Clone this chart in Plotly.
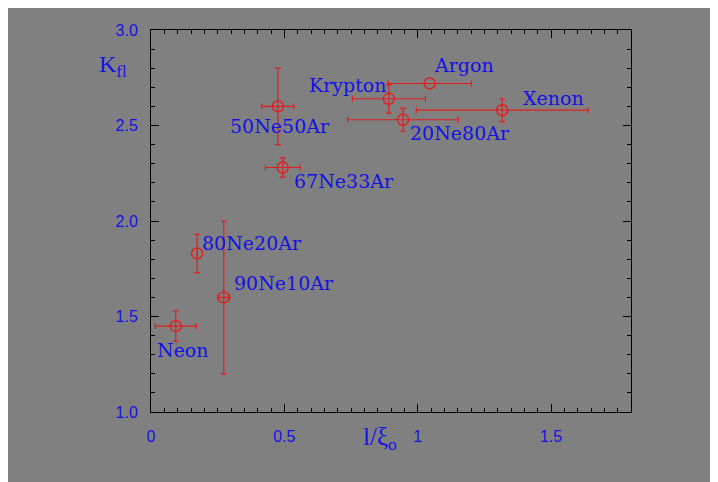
import plotly.graph_objects as go

# ---- data ----
names = ["Neon", "80Ne20Ar", "90Ne10Ar", "50Ne50Ar", "67Ne33Ar",
         "Krypton", "Argon", "20Ne80Ar", "Xenon"]
x_vals = [0.093, 0.173, 0.273, 0.476, 0.494, 0.892, 1.045, 0.945, 1.317]
y_vals = [1.45, 1.83, 1.60, 2.60, 2.28, 2.64, 2.72, 2.53, 2.58]
x_err = [0.077, 0.0, 0.022, 0.06, 0.065, 0.137, 0.156, 0.207, 0.322]
y_err = [0.08, 0.10, 0.40, 0.20, 0.05, 0.075, 0.0, 0.06, 0.06]

# label anchor positions (data coords)
label_x = [0.12, 0.379, 0.498, 0.485, 0.722, 0.736, 1.174, 1.157, 1.508]
label_y = [1.326, 1.885, 1.678, 2.497, 2.21, 2.71, 2.815, 2.459, 2.646]

x_tickvals = [0, 0.5, 1, 1.5]
x_ticktext = ["0", "0.5", "1", "1.5"]
y_tickvals = [1.0, 1.5, 2.0, 2.5, 3.0]
y_ticktext = ["1.0", "1.5", "2.0", "2.5", "3.0"]

GRAY = "#808080"
BLUE = "#1212e6"
RED = "#e01e1e"

fig = go.Figure()
fig.add_trace(go.Scatter(
    x=x_vals, y=y_vals, mode="markers",
    marker=dict(symbol="circle-open", size=11, color=RED, line=dict(width=1.4, color=RED)),
    error_x=dict(type="data", array=x_err, color=RED, thickness=1.2, width=3),
    error_y=dict(type="data", array=y_err, color=RED, thickness=1.2, width=3),
    showlegend=False, hoverinfo="skip",
))

for n, lx, ly in zip(names, label_x, label_y):
    fig.add_annotation(x=lx, y=ly, xref="x", yref="y", text=n, showarrow=False,
                       xanchor="center", yanchor="middle",
                       font=dict(family="DejaVu Serif", size=19, color=BLUE))

OFF = 8  # page body margin
W, H = 718, 482
L = 150.5 - OFF
T = 29.5 - OFF
R = W - (631 - OFF)
B = H - (412 - OFF)
pw, ph = W - L - R, H - T - B

def px_x(p):
    return (p - OFF - L) / pw

def px_y(p):
    return (H - B - (p - OFF)) / ph

# axis titles
fig.add_annotation(xref="paper", yref="paper", x=px_x(380), y=px_y(456),
                   text="l/ξ<sub>o</sub>", showarrow=False, xanchor="center", yanchor="bottom",
                   font=dict(family="Liberation Serif", size=25, color=BLUE))
fig.add_annotation(xref="paper", yref="paper", x=px_x(96), y=px_y(66),
                   text="K<sub>fl</sub>", showarrow=False, xanchor="left", yanchor="middle",
                   font=dict(family="Liberation Serif", size=24, color=BLUE))

axis_common = dict(
    showline=True, linecolor="black", linewidth=1, mirror="allticks",
    ticks="inside", ticklen=8, tickcolor="black", tickwidth=1,
    showgrid=False, zeroline=False,
    tickfont=dict(family="Liberation Sans", size=16, color=BLUE),
)

fig.update_xaxes(range=[0, 1.8], tickmode="array", tickvals=x_tickvals, ticktext=x_ticktext,
                 minor=dict(ticks="inside", dtick=0.05, ticklen=4, tickcolor="black", showgrid=False),
                 ticklabelstandoff=10, **axis_common)
fig.update_yaxes(range=[1.0, 3.0], tickmode="array", tickvals=y_tickvals, ticktext=y_ticktext,
                 minor=dict(ticks="inside", dtick=0.1, ticklen=4, tickcolor="black", showgrid=False),
                 ticklabelstandoff=9, **axis_common)

fig.update_layout(
    width=W, height=H, margin=dict(l=L, r=R, t=T, b=B),
    paper_bgcolor=GRAY, plot_bgcolor=GRAY,
)

fig.write_html("out.html")
